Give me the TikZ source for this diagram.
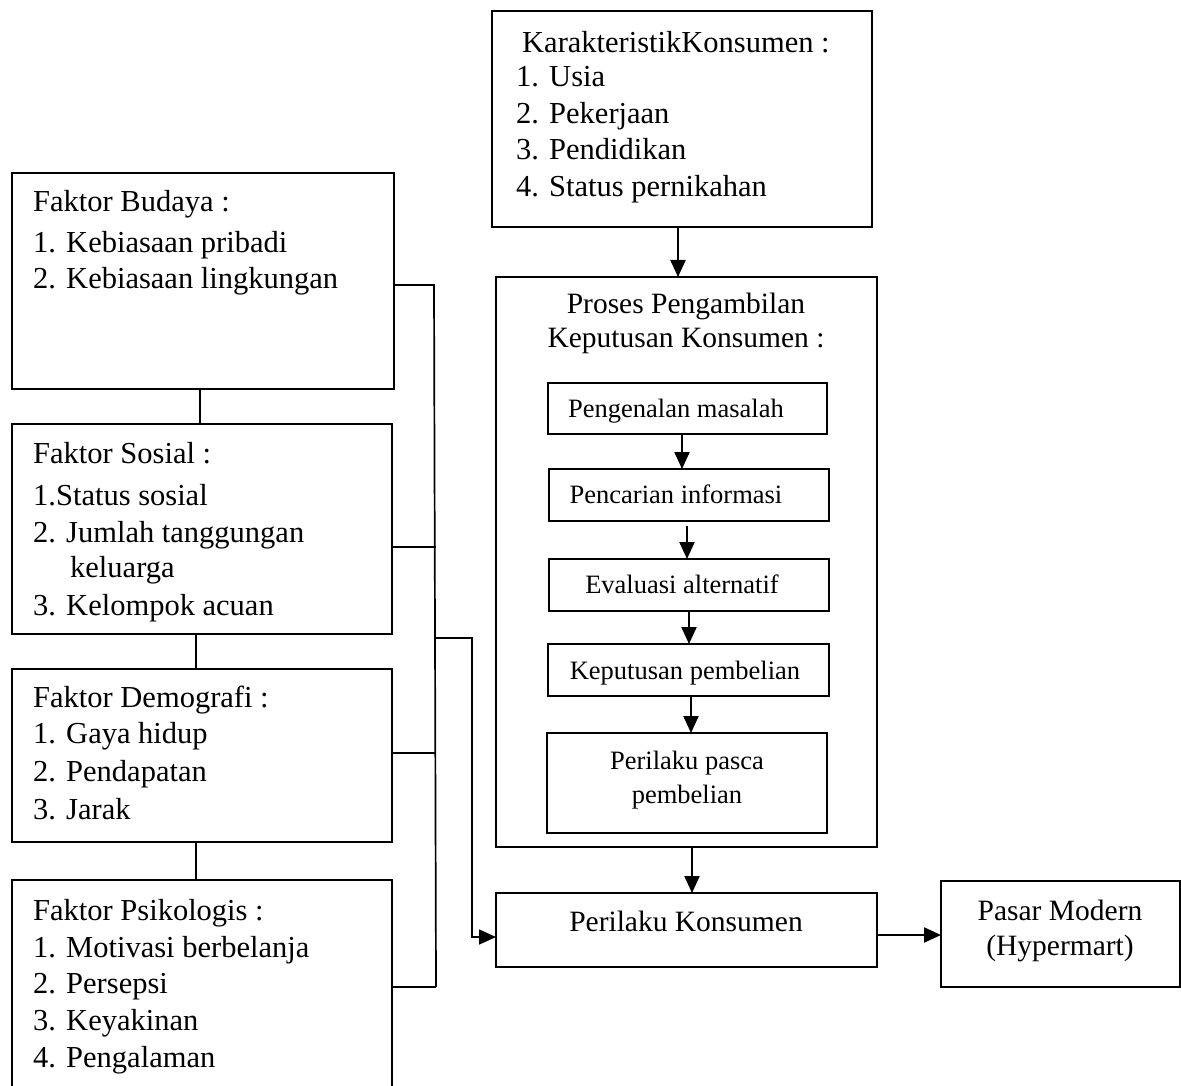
\documentclass[tikz,border=0pt]{standalone}
\usepackage{fontspec}
\setmainfont{Liberation Serif}
\usetikzlibrary{arrows.meta}
\begin{document}
\begin{tikzpicture}[x=1pt,y=-1pt,
  box/.style={draw,line width=2.2pt,anchor=north west,inner sep=0pt,outer sep=0pt},
  big/.style={font=\fontsize{30.5}{37}\selectfont,inner sep=0pt,anchor=base west},
  mid/.style={font=\fontsize{29.5}{35}\selectfont,inner sep=0pt,anchor=base},
  small/.style={font=\fontsize{26.5}{34}\selectfont,inner sep=0pt,anchor=base},
  conn/.style={line width=1.7pt},
  arr/.style={line width=2.2pt,-{Triangle[length=17pt,width=15pt]}},
]
\useasboundingbox (0,0) rectangle (1181,1086);
% ---------- left boxes ----------
\node[box,minimum width=382pt,minimum height=216pt] (budaya) at (12,173) {};
\node[box,minimum width=380pt,minimum height=210pt] (sosial) at (12,424) {};
\node[box,minimum width=380pt,minimum height=173pt] (demo) at (12,669) {};
\node[box,minimum width=380pt,minimum height=230pt] (psiko) at (12,880) {};
% texts
\node[big] (b0) at (33,212) {Faktor Budaya :};
\node[big] (b1) at (33,253) {1. Kebiasaan pribadi};
\node[big] (b2) at (33,288) {2. Kebiasaan lingkungan};
\node[big] (s0) at (33,463) {Faktor Sosial :};
\node[big] (s1) at (33,505) {1.Status sosial};
\node[big] (s2) at (33,542) {2. Jumlah tanggungan};
\node[big] (s3) at (70,577) {keluarga};
\node[big] (s4) at (33,615) {3. Kelompok acuan};
\node[big] (d0) at (33,707) {Faktor Demografi :};
\node[big] (d1) at (33,743) {1. Gaya hidup};
\node[big] (d2) at (33,781) {2. Pendapatan};
\node[big] (d3) at (33,819) {3. Jarak};
\node[big] (p0) at (33,920) {Faktor Psikologis :};
\node[big] (p1) at (33,957) {1. Motivasi berbelanja};
\node[big] (p2) at (33,993) {2. Persepsi};
\node[big] (p3) at (33,1030) {3. Keyakinan};
\node[big] (p4) at (33,1067) {4. Pengalaman};
% ---------- right column ----------
\node[box,minimum width=380pt,minimum height=216pt] (karak) at (492,11) {};
\node[big] (k0) at (522,53) {KarakteristikKonsumen :};
\node[big] (k1) at (516,87) {1. Usia};
\node[big] (k2) at (516,124) {2. Pekerjaan};
\node[big] (k3) at (516,160) {3. Pendidikan};
\node[big] (k4) at (516,197) {4. Status pernikahan};

\node[box,minimum width=381pt,minimum height=570pt] (proses) at (496,277) {};
\node[mid] (t0) at (686,313) {Proses Pengambilan};
\node[mid] (t1) at (686,347) {Keputusan Konsumen :};

\node[box,minimum width=279pt,minimum height=51pt] (pengenalan) at (548,383) {};
\node[box,minimum width=280pt,minimum height=52pt] (pencarian) at (549,469) {};
\node[box,minimum width=280pt,minimum height=52pt] (evaluasi) at (549,559) {};
\node[box,minimum width=281pt,minimum height=52pt] (keputusan) at (548,644) {};
\node[box,minimum width=280pt,minimum height=100pt] (pasca) at (547,733) {};
\node[small] (i1) at (676,417) {Pengenalan masalah};
\node[small] (i2) at (676,503) {Pencarian informasi};
\node[small] (i3) at (682,593) {Evaluasi alternatif};
\node[small] (i4) at (685,679) {Keputusan pembelian};
\node[small] (i5) at (687,769) {Perilaku pasca};
\node[small] (i6) at (687,803) {pembelian};

\node[box,minimum width=381pt,minimum height=74pt] (pk) at (496,893) {};
\node[mid] (pkt) at (686,931) {Perilaku Konsumen};
\node[box,minimum width=239pt,minimum height=106pt] (pasar) at (941,881) {};
\node[mid] (pa1) at (1060,920) {Pasar Modern};
\node[mid] (pa2) at (1060,955) {(Hypermart)};

% ---------- column coordinates ----------
\coordinate (c1) at (200,0);
\coordinate (c2) at (196,0);
\coordinate (ck) at (678,0);
\coordinate (a1) at (682,0);
\coordinate (a2) at (687,526);
\coordinate (a3) at (689,0);
\coordinate (a4) at (691,0);
\coordinate (a5) at (692,0);
\coordinate (busTop) at (434,285);
\coordinate (jS) at (436,547);
\coordinate (jD) at (436,753);
\coordinate (jP) at (436,987);
\coordinate (br) at (436,638);
\coordinate (brc) at (472,638);

% ---------- left connectors ----------
\draw[conn] (budaya.south -| c1) -- (sosial.north -| c1);
\draw[conn] (sosial.south -| c2) -- (demo.north -| c2);
\draw[conn] (demo.south -| c2) -- (psiko.north -| c2);
\draw[conn] (budaya.east |- busTop) -- (busTop) -- (jP);
\draw[conn] (sosial.east |- jS) -- (jS);
\draw[conn] (demo.east |- jD) -- (jD);
\draw[conn] (psiko.east |- jP) -- (jP);
\draw[arr,line width=1.7pt] (br) -- (brc) |- ([yshift=-7pt]pk.west);

% ---------- right arrows ----------
\draw[arr] (karak.south -| ck) -- (proses.north -| ck);
\draw[arr] (pengenalan.south -| a1) -- (pencarian.north -| a1);
\draw[arr] (a2) -- (evaluasi.north -| a2);
\draw[arr] (evaluasi.south -| a3) -- (keputusan.north -| a3);
\draw[arr] (keputusan.south -| a4) -- (pasca.north -| a4);
\draw[arr] (proses.south -| a5) -- (pk.north -| a5);
\draw[arr] ([yshift=-5pt]pk.east) -- ([yshift=-5pt]pk.east -| pasar.west);
\end{tikzpicture}
\end{document}
